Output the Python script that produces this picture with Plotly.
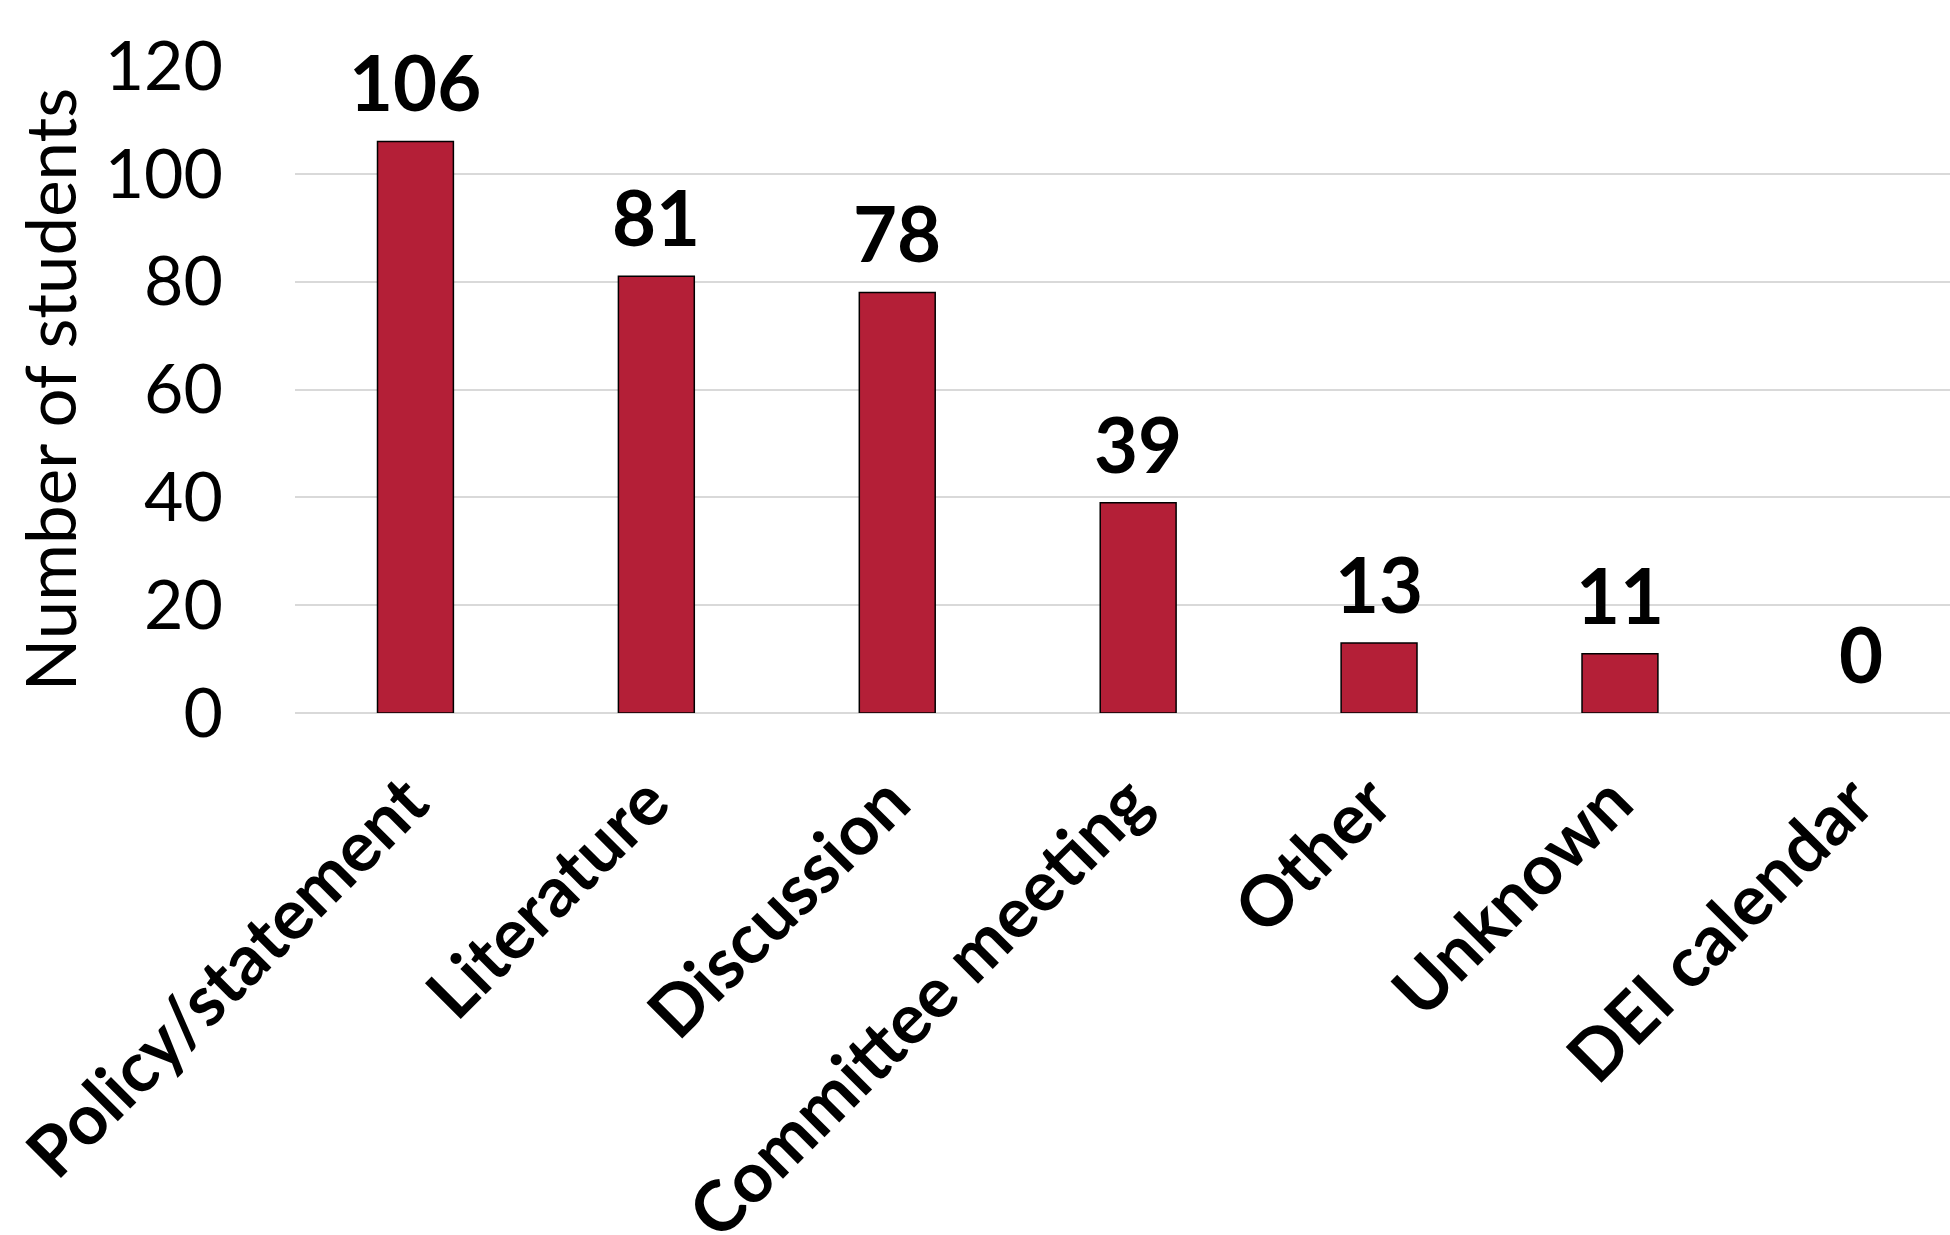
import plotly.graph_objects as go

# Sources of information reported by students
categories = ["Policy/statement", "Literature", "Discussion", "Committee meeting",
              "Other", "Unknown", "DEI calendar"]
counts = [106, 81, 78, 39, 13, 11, 0]
y_ticks = [0, 20, 40, 60, 80, 100, 120]

BAR_COLOR = "#B41F37"
FONT = "Lato"

fig = go.Figure()
fig.add_trace(go.Bar(
    x=categories,
    y=counts,
    marker=dict(
        color=BAR_COLOR,
        # no outline on empty bars so nothing is drawn at zero
        line=dict(color="#000000", width=[1.5 if v > 0 else 0 for v in counts]),
    ),
    width=0.315,
    hoverinfo="skip",
))

# value labels above each bar
for cat, val in zip(categories, counts):
    fig.add_annotation(
        x=cat, y=val, text=f"<b>{val}</b>", showarrow=False,
        xanchor="center", yanchor="bottom", yshift=12,
        font=dict(family=FONT, size=76, color="#000000"),
    )

fig.update_layout(
    width=1950, height=1235,
    margin=dict(l=295, r=0, t=66, b=522, autoexpand=False),
    paper_bgcolor="#FFFFFF", plot_bgcolor="#FFFFFF",
    showlegend=False,
    font=dict(family=FONT, color="#000000"),
)
fig.update_xaxes(
    range=[-0.5, 6.37],
    tickangle=-45,
    tickfont=dict(family=FONT, size=70, color="#000000"),
    tickprefix="<b>", ticksuffix="</b>",
    showgrid=False, showline=False, ticks="",
    ticklabelstandoff=33, ticklabelshift=-8,
    automargin=False,
)
fig.update_yaxes(
    range=[0, 120],
    tickvals=y_ticks,
    tickfont=dict(family=FONT, size=68, color="#000000"),
    showgrid=True, gridcolor="#D9D9D9", gridwidth=2,
    zeroline=True, zerolinecolor="#D9D9D9", zerolinewidth=2,
    showline=False, ticks="", ticklabelstandoff=71,
    title=dict(text="Number of students", font=dict(family=FONT, size=69, color="#000000"), standoff=5),
    automargin=False,
)

fig.write_html("out.html")
